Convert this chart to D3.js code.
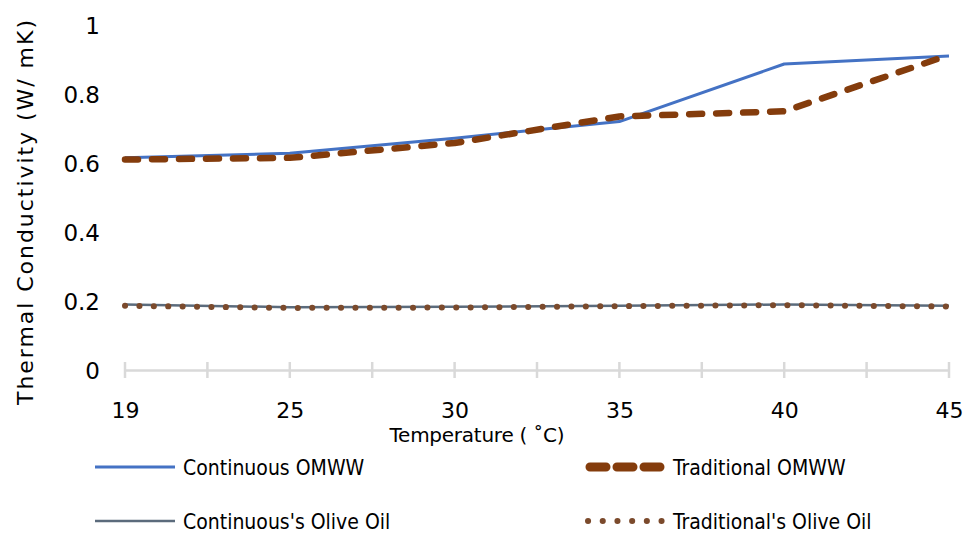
<!DOCTYPE html>
<html>
<head>
<meta charset="utf-8">
<script src="https://cdn.jsdelivr.net/npm/d3@7/dist/d3.min.js"></script>
<style>
  html, body { margin: 0; padding: 0; background: #fff; }
  svg { display: block; }
</style>
</head>
<body>
<svg id="chart" width="966" height="534"></svg>
<script>
// Temperature categories (°C)
const temperatures = [19, 25, 30, 35, 40, 45];
// Thermal conductivity, W/mK
const continuousOMWW = [0.615, 0.628, 0.672, 0.72, 0.887, 0.91];
const traditionalOMWW = [0.61, 0.615, 0.658, 0.735, 0.75, 0.913];
const continuousOliveOil = [0.19, 0.182, 0.183, 0.186, 0.19, 0.186];
const traditionalOliveOil = [0.186, 0.18, 0.181, 0.185, 0.188, 0.184];
const yTicks = [0, 0.2, 0.4, 0.6, 0.8, 1];

const series = [
  { name: "Continuous OMWW", values: continuousOMWW, color: "#4472c4", width: 3, dash: null, cap: "butt" },
  { name: "Traditional OMWW", values: traditionalOMWW, color: "#843c0c", width: 6.5, dash: "13 14", cap: "round" },
  { name: "Continuous's Olive Oil", values: continuousOliveOil, color: "#5b6b7c", width: 2.5, dash: null, cap: "butt" },
  { name: "Traditional's Olive Oil", values: traditionalOliveOil, color: "#7b4a2c", width: 6, dash: "0.1 14.3", cap: "round" }
];

const svg = d3.select("#chart");
const plotLeft = 125, plotRight = 949, plotTop = 25, plotBottom = 370;

const x = d3.scalePoint().domain(temperatures).range([plotLeft, plotRight]);
const y = d3.scaleLinear().domain([0, 1]).range([plotBottom, plotTop]);

const tickFont = "DejaVu Sans, Verdana, sans-serif";

// Category axis with crossing tick marks, plus marks halfway between categories
const xAxis = svg.append("g")
  .attr("transform", `translate(0,${plotBottom})`)
  .call(d3.axisBottom(x).tickSize(0).tickPadding(0));
xAxis.select(".domain").attr("stroke", "#d9d9d9").attr("stroke-width", 2.5);
xAxis.selectAll(".tick text")
  .attr("font-family", tickFont).attr("font-size", 22).attr("fill", "#000")
  .attr("dy", 0).attr("y", 48);
const tickPos = [];
temperatures.forEach((t, i) => {
  tickPos.push(x(t));
  if (i < temperatures.length - 1) tickPos.push((x(t) + x(temperatures[i + 1])) / 2);
});
xAxis.selectAll("line.cross").data(tickPos).join("line")
  .attr("class", "cross")
  .attr("x1", d => d).attr("x2", d => d)
  .attr("y1", -8).attr("y2", 8)
  .attr("stroke", "#d9d9d9").attr("stroke-width", 2.5);

// Value axis: labels only
const yAxis = svg.append("g")
  .attr("transform", `translate(100,0)`)
  .call(d3.axisLeft(y).tickValues(yTicks).tickSize(0).tickPadding(0).tickFormat(d3.format("~g")));
yAxis.select(".domain").remove();
yAxis.selectAll(".tick text")
  .attr("font-family", tickFont).attr("font-size", 23).attr("fill", "#000")
  .attr("dy", "0.36em");

// Axis titles
svg.append("text")
  .attr("x", 477).attr("y", 442)
  .attr("text-anchor", "middle")
  .attr("font-family", tickFont).attr("font-size", 20).attr("fill", "#000")
  .attr("textLength", 175).attr("lengthAdjust", "spacing")
  .text("Temperature ( ˚C)");
svg.append("text")
  .attr("transform", `translate(33,${(20 + 405) / 2}) rotate(-90)`)
  .attr("text-anchor", "middle")
  .attr("font-family", tickFont).attr("font-size", 22).attr("fill", "#000")
  .attr("textLength", 385).attr("lengthAdjust", "spacing")
  .text("Thermal Conductivity (W/ mK)");

// Series lines (olive oils first so OMWW lines sit above)
const line = d3.line().x((d, i) => x(temperatures[i])).y(d => y(d));
const drawOrder = [2, 3, 0, 1];
svg.append("g").selectAll("path")
  .data(drawOrder.map(i => series[i]))
  .join("path")
  .attr("d", s => line(s.values))
  .attr("fill", "none")
  .attr("stroke", s => s.color)
  .attr("stroke-width", s => s.width)
  .attr("stroke-dasharray", s => s.dash)
  .attr("stroke-linecap", s => s.cap)
  .attr("stroke-linejoin", "round");

// Legend, two columns by two rows
const legendFont = "DejaVu Sans Condensed, DejaVu Sans, sans-serif";
const legendPos = [
  { lx: 95, ty: 467 }, { lx: 585, ty: 467 },
  { lx: 95, ty: 521 }, { lx: 585, ty: 521 }
];
const legend = svg.append("g");
series.forEach((s, i) => {
  const p = legendPos[i];
  const g = legend.append("g");
  const isDash = s.dash === "13 14";
  const isDot = s.dash && !isDash;
  g.append("line")
    .attr("x1", p.lx + (isDash ? 5 : isDot ? 3 : 0)).attr("x2", p.lx + (isDash ? 75 : isDot ? 77 : 80))
    .attr("y1", p.ty).attr("y2", p.ty)
    .attr("stroke", s.color)
    .attr("stroke-width", isDash ? 9 : s.width)
    .attr("stroke-dasharray", isDash ? "16 11" : isDot ? "0.1 14.6" : null)
    .attr("stroke-linecap", s.cap);
  g.append("text")
    .attr("x", p.lx + 88).attr("y", p.ty)
    .attr("dy", "0.36em")
    .attr("font-family", legendFont).attr("font-size", 21).attr("fill", "#000")
    .text(s.name);
});
</script>
</body>
</html>
